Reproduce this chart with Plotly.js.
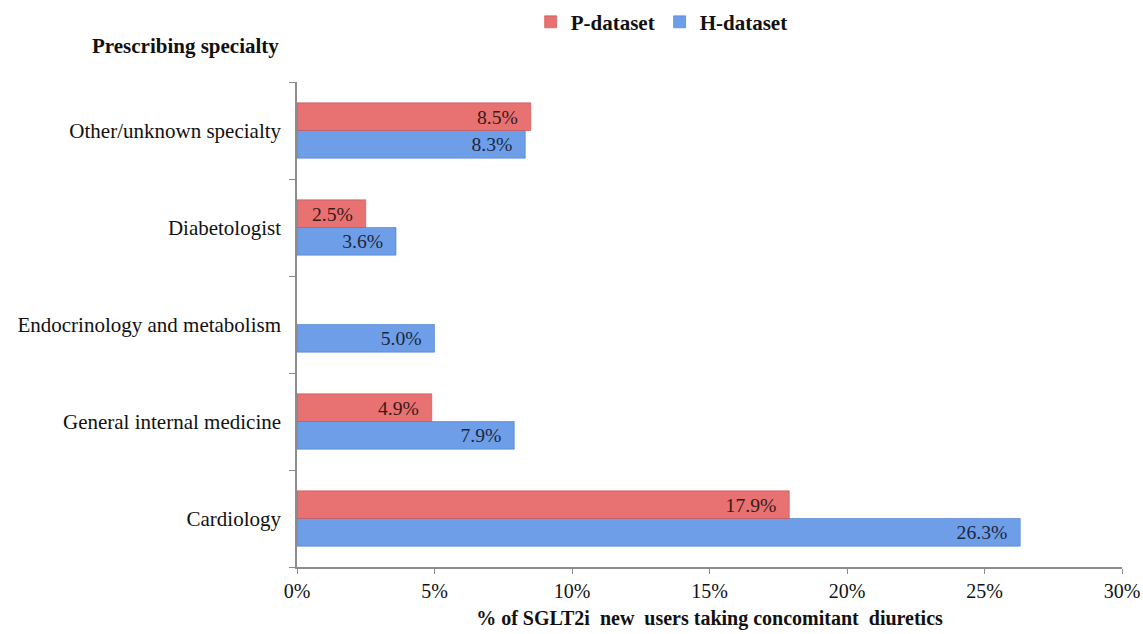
<!DOCTYPE html>
<html>
<head>
<meta charset="utf-8">
<script src="https://cdn.plot.ly/plotly-3.0.1.min.js"></script>
<style>html,body{margin:0;padding:0;background:#fff;}#chart{width:1143px;height:634px;}</style>
</head>
<body>
<div id="chart"></div>
<script>
const categories = ["Cardiology", "General internal medicine", "Endocrinology and metabolism", "Diabetologist", "Other/unknown specialty"];
const pDataset = [17.9, 4.9, null, 2.5, 8.5];
const hDataset = [26.3, 7.9, 5.0, 3.6, 8.3];
const xTicks = [0, 5, 10, 15, 20, 25, 30];

const serif = "'Liberation Serif', 'Times New Roman', serif";
const pad = "\u00a0\u00a0";

const traces = [
  {
    type: "bar", orientation: "h", name: "H-dataset",
    y: categories, x: hDataset,
    marker: {color: "#6e9ee8", line: {color: "#4a7bcc", width: 0.6}},
    text: hDataset.map(v => v == null ? "" : v.toFixed(1) + "%" + pad),
    textposition: "inside", insidetextanchor: "end",
    textfont: {family: serif, size: 20, color: "#1b2740"},
    hoverinfo: "x+y"
  },
  {
    type: "bar", orientation: "h", name: "P-dataset",
    y: categories, x: pDataset,
    marker: {color: "#e87171", line: {color: "#c94c4c", width: 0.6}},
    text: pDataset.map(v => v == null ? "" : v.toFixed(1) + "%" + pad),
    textposition: "inside", insidetextanchor: "end",
    textfont: {family: serif, size: 20, color: "#3a1a1a"},
    hoverinfo: "x+y"
  }
];

const layout = {
  width: 1143, height: 634,
  margin: {l: 297, r: 21, t: 82, b: 67},
  paper_bgcolor: "#fff", plot_bgcolor: "#fff",
  font: {family: serif, size: 20, color: "#111"},
  barmode: "group", bargap: 0.43, bargroupgap: 0,
  showlegend: true,
  legend: {
    orientation: "h", traceorder: "reversed",
    xref: "paper", yref: "container",
    x: 0.442, xanchor: "center", y: 0.965, yanchor: "middle",
    font: {family: serif, size: 21, color: "#111", weight: "bold"},
    itemwidth: 30
  },
  xaxis: {
    range: [0, 30], tickvals: xTicks, ticktext: xTicks.map(v => v + "%"),
    showgrid: false, zeroline: false,
    showline: true, linecolor: "#8c8c8c", linewidth: 1.5,
    ticks: "outside", ticklen: 5, tickcolor: "#8c8c8c",
    tickfont: {family: serif, size: 20, color: "#111"},
    title: {text: "<b>% of SGLT2i  new  users taking concomitant  diuretics</b>", font: {family: serif, size: 20, color: "#111"}, standoff: 10}
  },
  yaxis: {
    type: "category", categoryorder: "array", categoryarray: categories,
    range: [-0.5, 4.5],
    showgrid: false, zeroline: false,
    showline: true, linecolor: "#8c8c8c", linewidth: 1.5,
    ticks: "outside", ticklen: 6, tickcolor: "#8c8c8c", tickson: "boundaries",
    tickfont: {family: serif, size: 21, color: "#111"},
    ticklabelstandoff: 10
  },
  annotations: [{
    text: "<b>Prescribing specialty</b>", xref: "paper", yref: "paper",
    x: -0.02, xanchor: "right", y: 1.074, yanchor: "middle",
    showarrow: false, font: {family: serif, size: 21, color: "#111"}
  }]
};

Plotly.newPlot("chart", traces, layout, {displayModeBar: false, responsive: false});
</script>
</body>
</html>
